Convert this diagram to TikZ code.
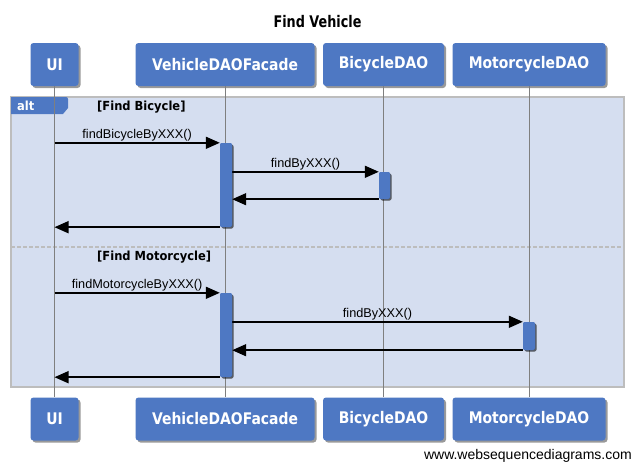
\documentclass[tikz,border=0pt]{standalone}
\usepackage{fontspec}
\setmainfont{Liberation Sans}
\newfontfamily\boxfont[FakeStretch=0.87]{DejaVu Sans}
\newfontfamily\titlefont[FakeStretch=0.8]{DejaVu Sans}
\newfontfamily\guardfont[FakeStretch=0.92]{DejaVu Sans}
\usetikzlibrary{arrows.meta,shadows}
\definecolor{boxblue}{HTML}{4E78C3}
\definecolor{framefill}{HTML}{D5DEF0}
\definecolor{frameline}{HTML}{BDBDBD}
\definecolor{lifegray}{HTML}{7F7F7F}
\begin{document}
\begin{tikzpicture}[x=1pt,y=-1pt,
  actor/.style={fill=boxblue, rounded corners=3pt, text=white,
    font=\boxfont\bfseries\fontsize{16}{18}\selectfont,
    minimum height=43pt, inner sep=0pt,
    drop shadow={shadow xshift=2pt, shadow yshift=-2pt, fill=black, opacity=0.4}},
  act/.style={fill=boxblue, rounded corners=2pt, minimum width=12pt, inner sep=0pt,
    drop shadow={shadow xshift=1.5pt, shadow yshift=-1.5pt, fill=black, opacity=0.35}},
  life/.style={draw=lifegray, line width=1pt},
  msg/.style={draw=black, line width=1.5pt, -{Triangle[length=14pt,width=12pt]}},
  lbl/.style={font=\fontsize{12.7}{14}\selectfont, inner sep=1pt, text=black},
  guard/.style={font=\guardfont\bfseries\fontsize{12.5}{14}\selectfont, anchor=west, inner sep=0pt}
]
\useasboundingbox (0,0) rectangle (633,464);
\fill[white] (0,0) rectangle (633,464);

% title
\node[font=\titlefont\bfseries\fontsize{16}{18}\selectfont] (title) at (317.5,22) {Find Vehicle};

% alt frame
\draw[fill=framefill, draw=frameline, line width=1.5pt] (11,97) rectangle (624,387);
\fill[boxblue] (11,97) -- (66,97) to[out=0,in=90] (68,99) -- (68,108) -- (63,114) -- (11,114) -- cycle;
\node[anchor=west, text=white, font=\guardfont\bfseries\fontsize{12.5}{14}\selectfont, inner sep=0pt] (alt) at (17,106) {alt};
\draw[frameline, line width=1.2pt, dash pattern=on 4pt off 2pt] (11,247) -- (624,247);
\node[guard] (g1) at (97,107) {[Find Bicycle]};
\node[guard] (g2) at (97,257) {[Find Motorcycle]};

% participants (top)
\node[actor, minimum width=48pt] (ui) at (54.5,64.5) {UI};
\node[actor, minimum width=179pt] (fac) at (225,64.5) {VehicleDAOFacade};
\node[actor, minimum width=121pt] (bic) at (383.5,64.5) {BicycleDAO};
\node[actor, minimum width=153pt] (mot) at (529,64.5) {MotorcycleDAO};
% participants (bottom)
\node[actor, minimum width=48pt] (uib) at (54.5,419) {UI};
\node[actor, minimum width=179pt] (facb) at (225,419) {VehicleDAOFacade};
\node[actor, minimum width=121pt] (bicb) at (383.5,419) {BicycleDAO};
\node[actor, minimum width=153pt] (motb) at (529,419) {MotorcycleDAO};

% lifelines
\draw[life] (ui.south) -- (uib.north);
\draw[life] (fac.south) -- (facb.north);
\draw[life] (bic.south) -- (bicb.north);
\draw[life] (mot.south) -- (motb.north);

% activations (positions)
\path (226,185) node[act, minimum height=84pt] (act1) {};
\path (384.5,185.5) node[act, minimum width=11pt, minimum height=27pt] (act2) {};
\path (226,335) node[act, minimum height=84pt] (act3) {};
\path (529,336) node[act, minimum height=28pt] (act4) {};

\coordinate (u1) at (ui.south |- act1.north);
\coordinate (u2) at (ui.south |- act1.south);
\coordinate (u3) at (ui.south |- act3.north);
\coordinate (u4) at (ui.south |- act3.south);

% messages
\draw[msg] (u1) -- (act1.north west) node[midway, above, lbl] {findBicycleByXXX()};
\draw[msg] (act1.east |- act2.north) -- (act2.north west) node[midway, above, lbl] {findByXXX()};
\draw[msg] (act2.south west) -- (act1.east |- act2.south);
\draw[msg] (act1.south west) -- (u2);

\draw[msg] (u3) -- (act3.north west) node[midway, above, lbl] {findMotorcycleByXXX()};
\draw[msg] (act3.east |- act4.north) -- (act4.north west) node[midway, above, lbl] {findByXXX()};
\draw[msg] (act4.south west) -- (act3.east |- act4.south);
\draw[msg] (act3.south west) -- (u4);

% redraw activations on top
\path (226,185) node[act, minimum height=84pt] {};
\path (384.5,185.5) node[act, minimum width=11pt, minimum height=27pt] {};
\path (226,335) node[act, minimum height=84pt] {};
\path (529,336) node[act, minimum height=28pt] {};

% watermark
\node[anchor=east, font=\fontsize{14}{16}\selectfont, inner sep=0pt] (wm) at (632,456) {www.websequencediagrams.com};
\end{tikzpicture}
\end{document}
